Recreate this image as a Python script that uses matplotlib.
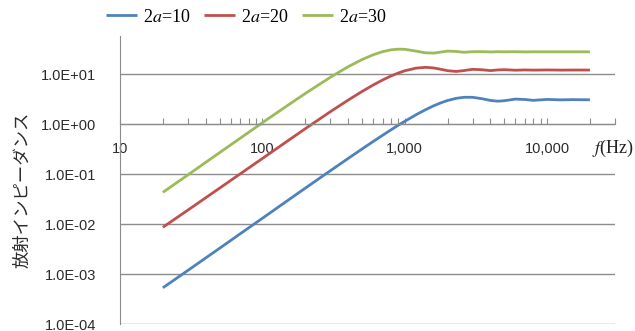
import matplotlib
matplotlib.use("Agg")
import matplotlib.pyplot as plt
from matplotlib.ticker import FixedLocator, NullFormatter, LogLocator

plt.rcParams['mathtext.fontset'] = 'stix'

# frequency (Hz) and radiation impedance
freq = [20, 30, 50, 70, 100, 150, 200, 300, 400, 500, 600, 700, 800, 900,
        1000, 1200, 1400, 1600, 1800, 2000, 2300, 2600, 3000, 3500, 4000,
        4500, 5000, 6000, 7000, 8000, 10000, 12500, 15000, 20000]
z_10 = [5.3e-4, 1.18e-3, 3.26e-3, 6.4e-3, 1.30e-2, 2.93e-2, 5.2e-2, 0.116,
        0.204, 0.315, 0.446, 0.596, 0.763, 0.943, 1.13, 1.53, 1.93, 2.32,
        2.66, 2.95, 3.26, 3.42, 3.42, 3.20, 2.96, 2.86, 2.92, 3.15, 3.09,
        2.97, 3.10, 3.04, 3.07, 3.05]
z_20 = [8.6e-3, 1.9e-2, 5.2e-2, 0.101, 0.204, 0.456, 0.803, 1.76, 3.00,
        4.45, 6.02, 7.60, 9.12, 10.45, 11.6, 13.1, 13.6, 13.2, 12.4, 11.65,
        11.25, 11.7, 12.4, 12.15, 11.7, 12.05, 12.2, 11.9, 12.05, 11.95,
        12.05, 11.95, 12.0, 12.0]
z_30 = [4.3e-2, 9.6e-2, 0.267, 0.521, 1.06, 2.34, 4.07, 8.59, 13.96, 19.4,
        24.2, 28.0, 30.4, 31.4, 31.2, 28.7, 26.5, 26.2, 27.5, 28.7, 28.3,
        27.2, 27.9, 28.0, 27.6, 27.9, 27.8, 27.9, 27.7, 27.8, 27.8, 27.8,
        27.8, 27.8]

labels = ['2$a$=10', '2$a$=20', '2$a$=30']
colors = ['#4F81BD', '#C0504D', '#9BBB59']
y_ticks = [1e-4, 1e-3, 1e-2, 1e-1, 1e0, 1e1]
y_ticklabels = ['1.0E-04', '1.0E-03', '1.0E-02', '1.0E-01', '1.0E+00', '1.0E+01']
x_ticks = [10, 100, 1000, 10000]
x_ticklabels = ['10', '100', '1,000', '10,000']

fig = plt.figure(figsize=(6.35, 3.31), dpi=100)
ax = fig.add_axes([120/635, 7/331, 495/635, 288/331])

for z, lab, c in zip([z_10, z_20, z_30], labels, colors):
    ax.plot(freq, z, color=c, lw=2.0, label=lab, solid_capstyle='butt')

ax.set_xscale('log')
ax.set_yscale('log')
ax.set_xlim(10, 30000)
ax.set_ylim(1e-4, 10**1.76)

# y axis
ax.yaxis.set_major_locator(FixedLocator(y_ticks))
ax.set_yticklabels(y_ticklabels)
ax.yaxis.set_minor_formatter(NullFormatter())
ax.tick_params(axis='y', which='both', length=0, pad=17, labelsize=10.5,
               labelcolor='#2b2b2b')
for t in ax.get_yticklabels():
    t.set_family('Liberation Sans')
ax.yaxis.grid(True, color='#8c8c8c', lw=1)
ax.set_axisbelow(True)

# x axis crossing at y = 1
ax.spines['bottom'].set_position(('data', 1))
ax.spines['bottom'].set_color('#8c8c8c')
ax.spines['left'].set_color('#8c8c8c')
ax.spines['top'].set_visible(False)
ax.spines['right'].set_visible(False)
ax.xaxis.set_major_locator(FixedLocator(x_ticks))
ax.set_xticklabels(x_ticklabels)
ax.xaxis.set_minor_locator(LogLocator(base=10, subs=range(2, 10), numticks=20))
ax.xaxis.set_minor_formatter(NullFormatter())
ax.tick_params(axis='x', which='both', direction='in', length=4, width=0.8,
               color='#8c8c8c', pad=13, labelsize=10.5, labelcolor='#2b2b2b')
for t in ax.get_xticklabels():
    t.set_family('Liberation Sans')

fig.text(592/635, 1 - 148/331, '$f$(Hz)', fontsize=13, family='Liberation Serif',
         va='center', ha='left', color='#222222')

fig.text(22/635, 1 - 190/331, '放射インピーダンス', rotation=90, fontsize=12.5,
         family=['Noto Sans CJK JP', 'DejaVu Sans'], va='center', ha='center',
         color='#2b2b2b')

leg = ax.legend(loc='center', bbox_to_anchor=(246/635, 1 - 17/331),
                bbox_transform=fig.transFigure, ncol=3, frameon=False,
                handlelength=1.75, handletextpad=0.3, columnspacing=0.75,
                prop={'family': 'Liberation Serif', 'size': 13})

fig.savefig('out.png', dpi=100)
